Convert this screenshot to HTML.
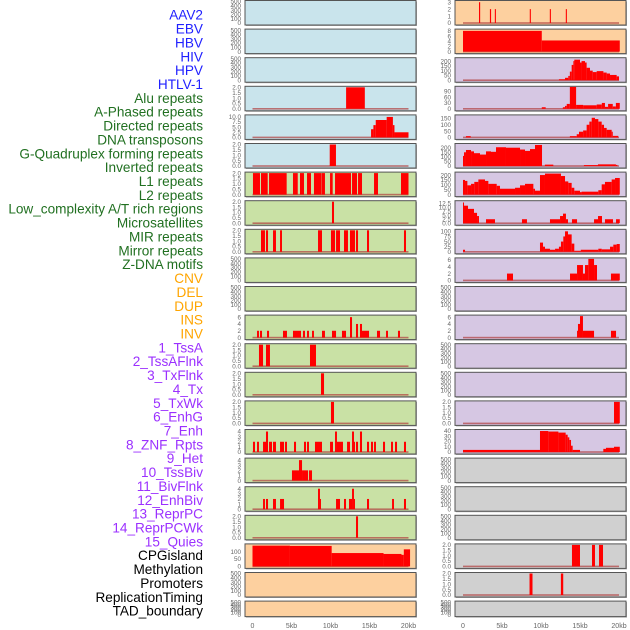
<!DOCTYPE html>
<html><head><meta charset="utf-8"><style>
html,body{margin:0;padding:0;background:#fff;width:630px;height:630px;overflow:hidden}
svg{display:block}
</style></head><body>
<svg id="chart" width="630" height="630" xmlns="http://www.w3.org/2000/svg"></svg>
<script>
const trackLabels=["AAV2","EBV","HBV","HIV","HPV","HTLV-1","Alu repeats","A-Phased repeats","Directed repeats","DNA transposons","G-Quadruplex forming repeats","Inverted repeats","L1 repeats","L2 repeats","Low_complexity A/T rich regions","Microsatellites","MIR repeats","Mirror repeats","Z-DNA motifs","CNV","DEL","DUP","INS","INV","1_TssA","2_TssAFlnk","3_TxFlnk","4_Tx","5_TxWk","6_EnhG","7_Enh","8_ZNF_Rpts","9_Het","10_TssBiv","11_BivFlnk","12_EnhBiv","13_ReprPC","14_ReprPCWk","15_Quies","CPGisland","Methylation","Promoters","ReplicationTiming","TAD_boundary"];
const labelGroups=[6,13,5,15,5];
const xTicks=[0,5,10,15,20];
const xTickLabels=["0","5kb","10kb","15kb","20kb"];
const leftBg=["b","b","b","b","b","b","g","g","g","g","g","g","g","g","g","g","g","g","g","o","o","o"];
const rightBg=["o","o","p","p","p","p","p","p","p","p","p","p","p","p","p","p","y","y","y","y","y","y"];
const leftMax=[500,500,500,2,10.5,2,2,2,2,500,500,6.3,2,2,2,4.2,4.2,4.2,2,145,500,500];
const rightMax=[3.1,8.3,225,110,170,235,220,13.5,105,6.3,500,6.3,500,500,2,41,500,500,500,2,2,500];
const T500=[0,100,200,300,400,500],T2=[0,0.5,1,1.5,2];
const leftTicks=[T500,T500,T500,T2,[0,2.5,5,7.5,10],T2,T2,T2,T2,T500,T500,[0,2,4,6],T2,T2,T2,[0,1,2,3,4],[0,1,2,3,4],[0,1,2,3,4],T2,[0,50,100],T500,T500];
const rightTicks=[[0,1,2,3],[0,2,4,6,8],[0,50,100,150,200],[0,30,60,90],[0,50,100,150],[0,50,100,150,200],[0,50,100,150,200],[0,2.5,5,7.5,10,12.5],[0,25,50,75,100],[0,2,4,6],T500,[0,2,4,6],T500,T500,T2,[0,10,20,30,40],T500,T500,T500,T2,T2,T500];
const leftSegs=[[],[],[],
[[12.0,14.4,2]],
[[15.2,15.5,4],[15.5,15.8,6],[15.8,17.2,8.5],[17.2,18.0,10],[18.0,18.2,6],[18.2,20.0,2.5]],
[[9.9,10.7,2]],
[[0.06,0.96,2],[1.09,1.95,2],[2.12,4.38,2],[5.19,5.8,2],[6.09,6.6,2],[6.99,7.5,2],[7.88,8.87,2],[8.91,9.29,2],[9.94,10.28,2],[10.58,12.63,2],[12.76,13.4,2],[13.53,14.04,2],[15.58,16.09,2],[19.04,20.0,2]],
[[10.19,10.45,2]],
[[1.09,1.6,2],[1.73,1.99,2],[2.63,3.01,2],[3.53,3.78,2],[8.4,8.91,2],[10.06,10.58,2],[10.71,11.22,2],[11.73,12.24,2],[12.5,13.14,2],[13.27,13.53,2],[14.68,14.94,2],[19.42,19.68,2]],
[],[],
[[0.58,0.83,2],[0.96,1.22,2],[1.86,2.12,2],[3.91,4.42,2],[5.19,6.22,2],[6.47,6.73,2],[6.99,7.24,2],[7.63,7.88,2],[8.91,9.29,2],[10.19,10.71,2],[11.47,11.99,2],[12.5,12.76,6],[13.27,13.53,4],[13.78,14.04,4],[14.04,14.94,2],[15.96,16.35,2],[17.12,17.37,2],[18.65,18.91,2]],
[[0.83,1.35,2],[1.73,2.24,2],[7.37,8.14,2]],
[[8.78,9.17,2]],
[[10.06,10.45,2]],
[[0.06,0.32,2],[0.58,0.83,2],[1.35,1.73,2],[1.73,1.99,4],[2.12,2.5,2],[2.63,3.01,2],[3.53,4.04,2],[4.17,4.42,2],[5.32,5.58,2],[6.6,6.86,2],[6.99,7.24,2],[8.01,8.91,2],[9.94,10.32,2],[10.58,10.83,4],[10.83,11.6,2],[12.12,12.5,2],[12.76,13.01,4],[13.01,13.14,2],[13.27,13.53,2],[13.78,14.04,4],[14.68,14.94,2],[15.19,15.45,2],[15.58,15.83,2],[16.73,16.99,2],[17.76,18.01,2],[18.27,18.53,2],[19.42,19.68,2]],
[[5.06,5.96,2],[5.96,6.35,4],[6.35,7.12,2],[7.24,7.63,2]],
[[1.35,1.6,2],[1.73,1.99,2],[2.63,3.01,2],[3.53,4.04,2],[8.4,8.65,4],[8.65,8.78,2],[10.71,11.22,2],[11.73,11.99,2],[12.37,12.76,2],[12.76,13.01,4],[13.01,13.14,2],[14.68,14.94,2],[17.89,18.14,2],[19.42,19.68,2]],
[[13.27,13.53,2]],
[[0,4.8,140],[4.8,10.15,138],[10.15,16.8,90],[16.8,19.1,84],[19.1,19.4,78],[19.4,20.2,115]],
[],[]];
const rightSegs=[
[[2.05,2.2,3],[3.45,3.6,2],[4.08,4.22,2],[8.56,8.7,2],[11.13,11.27,2],[13.18,13.32,2]],
[[0,10.1,8],[10.1,20.1,4.3]],
[[12.3,13.08,10],[13.08,13.5,25],[13.5,13.7,45],[13.7,13.93,90],[13.93,14.15,160],[14.15,14.27,200],[14.27,15.0,215],[15.0,15.2,185],[15.2,15.64,200],[15.64,15.85,185],[15.85,16.28,130],[16.28,16.63,100],[16.63,17.14,85],[17.14,18.0,95],[18.0,18.42,80],[18.42,18.85,70],[18.85,19.7,55],[19.7,20.0,40]],
[[10.1,10.6,8],[12.8,13.08,8],[13.08,13.3,15],[13.3,13.7,25],[13.7,14.5,112],[14.5,15.4,20],[15.4,17.14,18],[17.14,17.8,22],[17.8,18.2,30],[18.2,18.6,10],[18.6,19.2,25],[19.2,19.6,12],[19.6,20.1,30]],
[[0.38,0.99,10],[13.7,14.58,10],[14.58,14.87,25],[14.87,15.4,45],[15.4,15.85,55],[15.85,16.2,100],[16.2,16.5,125],[16.5,16.92,155],[16.92,17.35,145],[17.35,17.78,125],[17.78,18.08,100],[18.08,18.42,75],[18.42,19.06,60],[19.06,19.2,45],[19.2,19.9,12]],
[[0,0.13,110],[0.13,0.38,150],[0.38,1.03,175],[1.03,1.41,160],[1.41,2.18,140],[2.18,2.95,125],[2.95,3.59,160],[3.59,4.23,155],[4.23,5.51,205],[5.51,7.31,200],[7.31,7.95,180],[7.95,8.59,165],[8.59,9.23,185],[9.23,10.13,230],[10.5,11.58,15],[15.5,17.3,10],[17.3,19.6,18],[19.6,19.8,12]],
[[0,0.26,150],[0.26,0.56,140],[0.56,1.03,95],[1.03,1.45,110],[1.45,1.97,130],[1.97,2.82,155],[2.82,3.25,140],[3.25,4.32,110],[4.32,4.74,90],[4.74,6.67,60],[6.67,7.31,70],[7.31,7.95,95],[7.95,9.02,110],[9.02,9.23,60],[9.23,9.87,40],[9.87,10.51,200],[10.51,12.56,215],[12.56,13.08,190],[13.08,13.5,135],[13.5,13.93,120],[13.93,14.27,70],[14.27,15.0,40],[15.0,15.2,25],[15.2,17.35,30],[17.35,17.78,45],[17.78,18.2,105],[18.2,19.06,130],[19.06,19.49,155],[19.49,20.1,170]],
[[0,0.13,13],[0.13,0.64,11],[0.64,1.41,9],[1.41,1.8,6.5],[1.8,2.05,4.5],[2.95,4.1,2.5],[7.56,8.2,2.5],[11.15,12.44,2.5],[12.44,12.82,4.5],[12.82,13.2,6],[13.2,13.46,2.5],[13.97,14.62,2.5],[16.8,17.31,2.5],[17.31,17.82,4.5],[18.2,19.23,2.5],[19.62,20.1,2.5]],
[[0,0.26,10],[9.87,10.26,45],[10.26,10.51,25],[10.51,11.15,15],[11.15,11.8,10],[11.8,12.3,15],[12.3,12.56,25],[12.56,12.86,50],[12.86,13.08,75],[13.08,13.46,100],[13.46,13.93,85],[13.93,14.27,40],[14.27,15.1,5],[15.1,17.35,10],[17.35,17.78,15],[17.78,18.85,12],[18.85,19.27,25],[19.27,19.7,35],[19.7,20.1,38]],
[[5.64,6.41,2],[13.72,14.62,2],[14.62,15.38,4.5],[15.38,15.64,2],[15.64,16.07,4.5],[16.07,16.8,6.3],[16.8,17.18,4.5],[18.97,20.1,2]],
[],
[[14.62,14.74,2],[14.74,15.0,4],[15.0,15.38,6.3],[15.38,16.8,2],[18.97,19.62,2]],
[],[],
[[19.36,20.1,2]],
[[0,9.87,4],[9.87,10.94,40],[10.94,12.23,39],[12.23,13.16,37],[13.16,13.42,33],[13.42,13.63,28],[13.63,13.85,23],[13.85,14.06,12],[14.06,15.0,4],[17.99,18.33,6],[18.33,19.36,8],[19.36,20.1,10]],
[],[],[],
[[13.97,15.0,2],[16.54,16.92,2],[17.44,17.95,2]],
[[8.53,8.91,2],[12.55,12.85,2]],
[]];

const NS="http://www.w3.org/2000/svg";
const svg=document.getElementById('chart');
const bgColors={b:"#c9e4ec",g:"#c9e1a5",o:"#fdd09f",p:"#d6c7e3",y:"#d0d0d0"};
function mk(tag,attrs,parent){const e=document.createElementNS(NS,tag);for(const k in attrs)e.setAttribute(k,attrs[k]);(parent||svg).appendChild(e);return e;}
// labels
const groupColors=["#2121ff","#217021","#ffa500","#9b30ff","#000000"];
let gi=0,cnt=0;
trackLabels.forEach((t,i)=>{
  while(cnt>=labelGroups[gi]){cnt=0;gi++;}
  cnt++;
  const el=mk('text',{x:203,y:15+i*13.86+4.7,'text-anchor':'end','font-family':'Liberation Sans, sans-serif','font-size':'13.6',fill:groupColors[gi]});
  el.textContent=t;
  
  
});
function fmt(v,ticks){const dec=ticks.some(t=>t%1!==0);return dec?v.toFixed(1):String(v);}
function drawCol(colX,zeroX,bgs,maxes,ticks,segs,colName){
  const W=171;
  const xs=kb=>zeroX+kb*7.8;
  for(let i=0;i<22;i++){
    const top=0.5+i*28.6, H=(i===21)?15.5:24.5;
    const ys=v=>top+H-2-(v/maxes[i])*(H-3);
    const g=mk('g',{});
    
    
    mk('rect',{x:colX+1,y:top+1,width:W,height:H,fill:'#aaa'},g);
    const bg=mk('rect',{x:colX,y:top,width:W,height:H,fill:bgColors[bgs[i]],stroke:'#555','stroke-width':1},g);
    
    
    if(segs[i].length){
      const bl=mk('rect',{x:xs(0),y:top+H-2.8,width:xs(20)-xs(0),height:1.6,fill:'#b04040',opacity:0.7},g);
      
      
    }
    segs[i].forEach(s=>{
      const y=ys(s[2]);
      const b=mk('rect',{x:xs(s[0]),y:y,width:Math.max(1,xs(s[1])-xs(s[0])),height:Math.max(0.5,ys(0)-y),fill:'#ff0000'},g);
      
      
    });
    ticks[i].forEach(t=>{
      const tl=mk('text',{x:colX-4,y:ys(t)+2.2,'text-anchor':'end','font-family':'Liberation Sans, sans-serif','font-size':'6.3',fill:'#666'},g);
      tl.textContent=fmt(t,ticks[i]);
      
      
    });
  }
  xTicks.forEach((t,j)=>{
    const tl=mk('text',{x:xs(t),y:628,'text-anchor':'middle','font-family':'Liberation Sans, sans-serif','font-size':'7',fill:'#666'});
    tl.textContent=xTickLabels[j];
    
    
  });
}
drawCol(245,252.5,leftBg,leftMax,leftTicks,leftSegs,'left');
drawCol(455,463,rightBg,rightMax,rightTicks,rightSegs,'right');
</script>
</body></html>
